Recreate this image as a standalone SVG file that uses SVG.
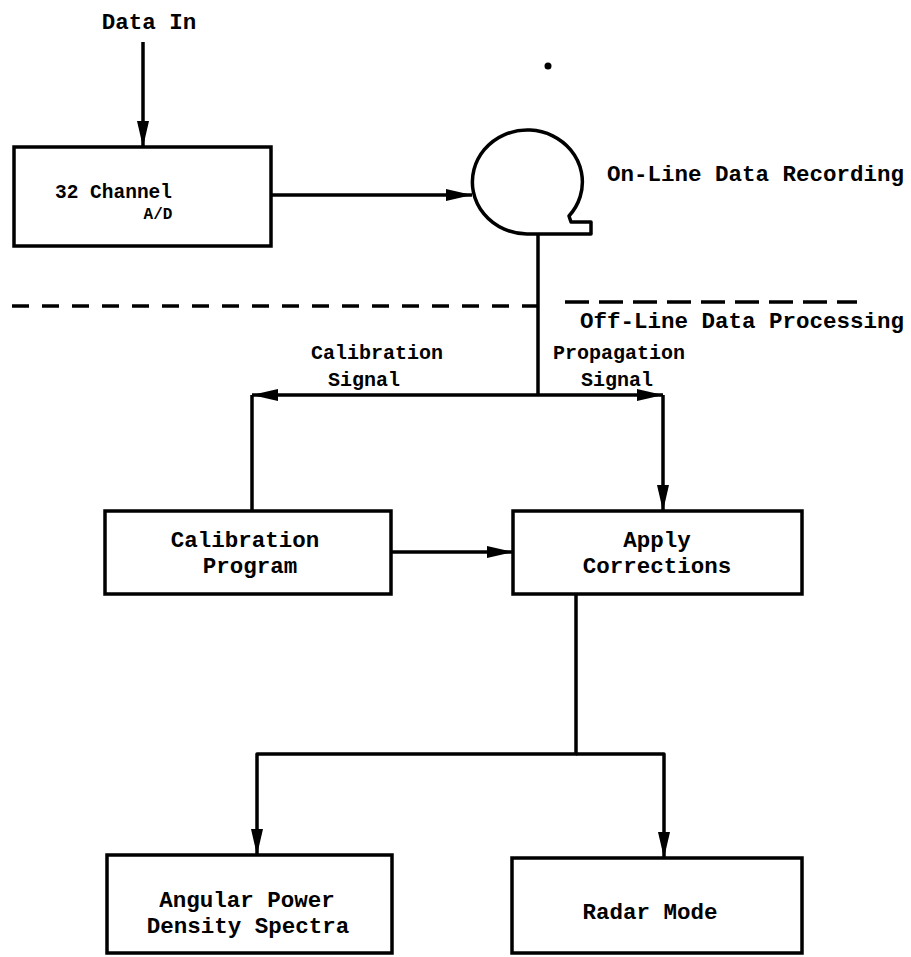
<svg xmlns="http://www.w3.org/2000/svg" width="911" height="957" viewBox="0 0 911 957">
<style>
  .box { fill: #fff; stroke: #000; stroke-width: 3.5; }
  .ln { fill: none; stroke: #000; stroke-width: 3.5; stroke-linejoin: round; }
  .dash { fill: none; stroke: #000; stroke-width: 3.5; }
  text { font-family: "Liberation Mono", "DejaVu Sans Mono", monospace; font-weight: bold; fill: #000; }
  .t22 { font-size: 22.5px; }
  .t20 { font-size: 20px; }
  .mid { text-anchor: middle; }
</style>
<defs>
  <marker id="arr" markerUnits="userSpaceOnUse" markerWidth="26" markerHeight="12" refX="26" refY="6" orient="auto">
    <path d="M0,0 L26,6 L0,12 z" fill="#000"/>
  </marker>
</defs>
<rect width="911" height="957" fill="#fff"/>

<g id="divider">
  <line class="dash" x1="12" y1="306" x2="545" y2="306" stroke-dasharray="17 13"/>
  <line class="dash" x1="565" y1="302" x2="857" y2="302" stroke-dasharray="24 10"/>
  <text class="t22" x="580" y="328">Off-Line Data Processing</text>
</g>

<g id="connectors">
  <path class="ln" d="M143 42 V147" marker-end="url(#arr)"/>
  <path class="ln" d="M271 195 H472" marker-end="url(#arr)"/>
  <path class="ln" d="M538 234 V395"/>
  <path class="ln" d="M538 395 H252" marker-end="url(#arr)"/>
  <path class="ln" d="M252 395 V511"/>
  <path class="ln" d="M538 395 H663" marker-end="url(#arr)"/>
  <path class="ln" d="M663 395 V511" marker-end="url(#arr)"/>
  <path class="ln" d="M391 552 H513" marker-end="url(#arr)"/>
  <path class="ln" d="M576 594 V754 H257 V855" marker-end="url(#arr)"/>
  <path class="ln" d="M576 754 H664 V858" marker-end="url(#arr)"/>
</g>

<g id="data-in">
  <text class="t22 mid" x="149" y="29">Data In</text>
</g>

<g id="ad-converter">
  <rect class="box" x="14" y="147" width="257" height="99"/>
  <text x="55" y="198" style="font-size:19.5px">32 Channel</text>
  <text class="mid" x="158" y="219" style="font-size:16px">A/D</text>
</g>

<g id="tape-recorder">
  <path class="ln" d="M527 234 A55 52 0 1 1 569 216 L571 222 L591 222 L591 234 Z" fill="#fff"/>
  <circle cx="548" cy="66" r="3.5" fill="#000"/>
  <text class="t22" x="607" y="181">On-Line Data Recording</text>
</g>

<g id="labels">
  <text class="t20 mid" x="377" y="359">Calibration</text>
  <text class="t20 mid" x="364" y="386">Signal</text>
  <text class="t20" x="553" y="359">Propagation</text>
  <text class="t20 mid" x="617" y="386">Signal</text>
</g>

<g id="calibration-program">
  <rect class="box" x="105" y="511" width="286" height="83"/>
  <text class="t22 mid" x="245" y="547">Calibration</text>
  <text class="t22 mid" x="250" y="573">Program</text>
</g>

<g id="apply-corrections">
  <rect class="box" x="513" y="511" width="289" height="83"/>
  <text class="t22 mid" x="657" y="547">Apply</text>
  <text class="t22 mid" x="657" y="573">Corrections</text>
</g>

<g id="angular-spectra">
  <rect class="box" x="107" y="855" width="285" height="98"/>
  <text class="t22 mid" x="247" y="907">Angular Power</text>
  <text class="t22 mid" x="248" y="933">Density Spectra</text>
</g>

<g id="radar-mode">
  <rect class="box" x="512" y="858" width="290" height="95"/>
  <text class="t22 mid" x="650" y="919">Radar Mode</text>
</g>
</svg>
